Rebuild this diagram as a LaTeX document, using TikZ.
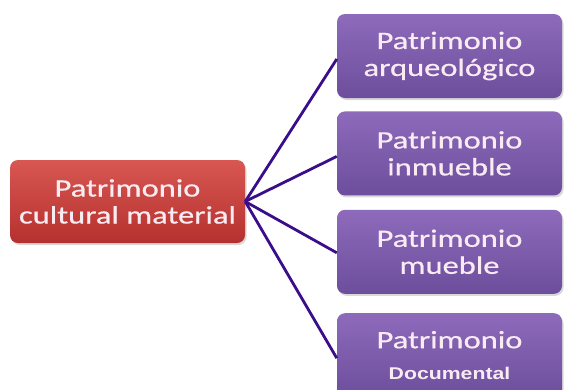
\documentclass[tikz,border=0pt]{standalone}
\usepackage{tikz}
\usepackage{xcolor}
\usepackage{fontspec}
\usetikzlibrary{positioning,shadows}

\newfontfamily\boxfont[FakeStretch=1.3,FakeBold=0.6]{Carlito}
\newfontfamily\docfont[FakeStretch=1.25]{Liberation Sans}

\definecolor{redtop}{HTML}{D85752}
\definecolor{redbot}{HTML}{B5312F}
\definecolor{purtop}{HTML}{8E6ABB}
\definecolor{purbot}{HTML}{6C4E9C}
\definecolor{linkcol}{HTML}{3A0D8A}
\definecolor{txtcol}{HTML}{F8ECF2}

\begin{document}
\begin{tikzpicture}[x=1pt, y=-1pt, node distance=13pt]
    \tikzstyle{box}=[rectangle, rounded corners=8pt, align=center, inner sep=0pt, text=txtcol,
        font=\boxfont\fontsize{25}{27}\selectfont,
        drop shadow={opacity=0.3, shadow xshift=1.5pt, shadow yshift=-2pt}]
    \tikzstyle{main}=[box, top color=redtop, bottom color=redbot, minimum width=235pt, minimum height=83pt]
    \tikzstyle{sub}=[box, top color=purtop, bottom color=purbot, minimum width=225pt, minimum height=84pt]
    \tikzstyle{link}=[draw=linkcol, line width=2.8pt]

    \clip (0,0) rectangle (564,389);

    \node[main] (mat) at (127.5,201.5) {Patrimonio\\cultural material};
    \node[sub] (arq) at (449.5,56) {Patrimonio\\arqueológico};
    \node[sub, below=of arq] (inm) {Patrimonio\\inmueble};
    \node[sub, below=14pt of inm] (mue) {Patrimonio\\mueble};
    \node[sub, below=19pt of mue] (doc) {Patrimonio\\[4pt]{\docfont\bfseries\fontsize{17}{20}\selectfont Documental}};

    \draw[link] (mat.east) -- ([yshift=-3pt]arq.west);
    \draw[link] (mat.east) -- ([yshift=-3pt]inm.west);
    \draw[link] (mat.east) -- ([yshift=-1pt]mue.west);
    \draw[link] (mat.east) -- ([yshift=-3pt]doc.west);
\end{tikzpicture}
\end{document}
